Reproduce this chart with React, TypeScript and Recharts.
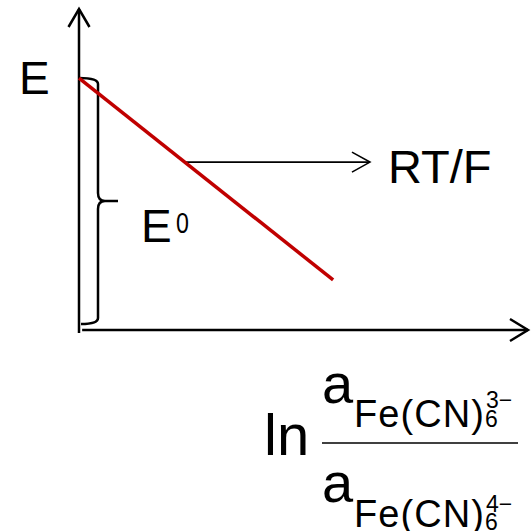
import React from "react";
import { LineChart, Line, XAxis, YAxis, ReferenceLine, ReferenceDot } from "recharts";

const FONT = '"Liberation Sans", Arial, Helvetica, sans-serif';

// Nernst plot: electrode potential against the log of the activity ratio
const lnRatio = [0, 56.6];
const potential = [78.5, 15.6];
const lineData = lnRatio.map((x, i) => ({ lnRatio: x, E: potential[i] }));

// Axis extents (data units)
const xAxisRange = [0.7, 100];
const yAxisRange = [-0.9, 100];
// Brace marking E0 from the intercept down to the baseline
const braceRange = [78.5, 1.9];
// Pointer from the line's slope to the RT/F label
const slopeArrowY = 52.3;
const slopeArrowX = [23.4, 64.8];

const labels = {
  e: "E",
  e0: "E",
  e0sup: "0",
  slope: "RT/F",
  ln: "ln",
  a: "a",
  species: "Fe(CN)",
  sub: "6",
  numCharge: "3\u2212",
  denCharge: "4\u2212",
};

type Seg = { x1?: number; y1?: number; x2?: number; y2?: number };

const arrow = (head: number, half: number, width: number) => (p: Seg) => {
  const x1 = Number(p.x1), y1 = Number(p.y1), x2 = Number(p.x2), y2 = Number(p.y2);
  const len = Math.hypot(x2 - x1, y2 - y1) || 1;
  const ux = (x2 - x1) / len, uy = (y2 - y1) / len;
  const bx = x2 - ux * head, by = y2 - uy * head;
  const w1x = bx - uy * half, w1y = by + ux * half;
  const w2x = bx + uy * half, w2y = by - ux * half;
  return (
    <g>
      <line x1={x1} y1={y1} x2={x2} y2={y2} stroke="#000" strokeWidth={width} />
      <path
        d={`M${w1x},${w1y} L${x2},${y2} L${w2x},${w2y}`}
        fill="none"
        stroke="#000"
        strokeWidth={width}
        strokeLinejoin="miter"
      />
    </g>
  );
};

const braceShape = (p: Seg) => {
  const x0 = Number(p.x1), top = Number(p.y1), bot = Number(p.y2);
  const bx = x0 + 19;
  const mid = (top + bot) / 2;
  const d = [
    `M${x0},${top} Q${bx},${top} ${bx},${top + 6}`,
    `L${bx},${mid - 8} Q${bx},${mid} ${bx + 7},${mid} L${bx + 20},${mid}`,
    `M${bx + 7},${mid} Q${bx},${mid} ${bx},${mid + 8}`,
    `L${bx},${bot - 6} Q${bx},${bot} ${x0 + 2},${bot}`,
  ].join(" ");
  return <path d={d} fill="none" stroke="#000" strokeWidth={2.5} />;
};

type Pt = { cx?: number; cy?: number };

const eLabel = (p: Pt) => (
  <text x={Number(p.cx) - 60} y={Number(p.cy) + 16} fontFamily={FONT} fontSize={46} fill="#000">
    {labels.e}
  </text>
);

const e0Label = (p: Pt) => {
  const cx = Number(p.cx), cy = Number(p.cy);
  return (
    <g fontFamily={FONT} fill="#000">
      <text x={cx + 62} y={cy + 41} fontSize={46}>{labels.e0}</text>
      <text transform={`translate(${cx + 97},${cy + 32}) scale(0.8,1)`} fontSize={29}>
        {labels.e0sup}
      </text>
    </g>
  );
};

const slopeLabel = (p: Pt) => (
  <text x={Number(p.cx) + 18} y={Number(p.cy) + 21} fontFamily={FONT} fontSize={47} fill="#000">
    {labels.slope}
  </text>
);

type TermPos = { a: number; species: number; charge: number; sub: number };

const ratioLabel = (p: Pt) => {
  const cx = Number(p.cx), cy = Number(p.cy);
  const term = (pos: TermPos, charge: string) => (
    <g>
      <text x={cx + 243} y={cy + pos.a} fontSize={56}>{labels.a}</text>
      <text x={cx + 275} y={cy + pos.species} fontSize={38} textLength={130} lengthAdjust="spacing">
        {labels.species}
      </text>
      <text x={cx + 407} y={cy + pos.charge} fontSize={23}>{charge}</text>
      <text x={cx + 406} y={cy + pos.sub} fontSize={23}>{labels.sub}</text>
    </g>
  );
  return (
    <g fontFamily={FONT} fill="#000">
      <text x={cx + 185} y={cy + 125} fontSize={58}>{labels.ln}</text>
      {term({ a: 73, species: 97, charge: 78, sub: 97 }, labels.numCharge)}
      <line x1={cx + 243} y1={cy + 113} x2={cx + 439} y2={cy + 113} stroke="#000" strokeWidth={1.3} />
      {term({ a: 172, species: 197, charge: 182, sub: 200 }, labels.denCharge)}
    </g>
  );
};

export default function App() {
  return (
    <div style={{ position: "absolute", left: 0, top: 0, width: 531, height: 531, background: "#fff" }}>
      <LineChart
        width={531}
        height={531}
        data={lineData}
        margin={{ top: 9, right: 3, bottom: 201, left: 79 }}
      >
        <XAxis type="number" dataKey="lnRatio" domain={[0, 100]} hide />
        <YAxis type="number" domain={[0, 100]} hide />

        <ReferenceLine
          segment={[{ x: 0, y: yAxisRange[0] }, { x: 0, y: yAxisRange[1] }]}
          ifOverflow="visible"
          shape={arrow(18, 10.5, 2.5)}
        />
        <ReferenceLine
          segment={[{ x: xAxisRange[0], y: 0 }, { x: xAxisRange[1], y: 0 }]}
          ifOverflow="visible"
          shape={arrow(18, 11, 2.5)}
        />
        <ReferenceLine
          segment={[{ x: 0, y: braceRange[0] }, { x: 0, y: braceRange[1] }]}
          ifOverflow="visible"
          shape={braceShape}
        />
        <ReferenceLine
          segment={[{ x: slopeArrowX[0], y: slopeArrowY }, { x: slopeArrowX[1], y: slopeArrowY }]}
          ifOverflow="visible"
          shape={arrow(18, 10, 1.6)}
        />

        <Line
          type="linear"
          dataKey="E"
          stroke="#C00000"
          strokeWidth={3.5}
          dot={false}
          activeDot={false}
          isAnimationActive={false}
        />

        <ReferenceDot x={0} y={braceRange[0]} ifOverflow="visible" shape={eLabel} />
        <ReferenceDot x={0} y={(braceRange[0] + braceRange[1]) / 2} ifOverflow="visible" shape={e0Label} />
        <ReferenceDot x={slopeArrowX[1]} y={slopeArrowY} ifOverflow="visible" shape={slopeLabel} />
        <ReferenceDot x={0} y={0} ifOverflow="visible" shape={ratioLabel} />
      </LineChart>
    </div>
  );
}
